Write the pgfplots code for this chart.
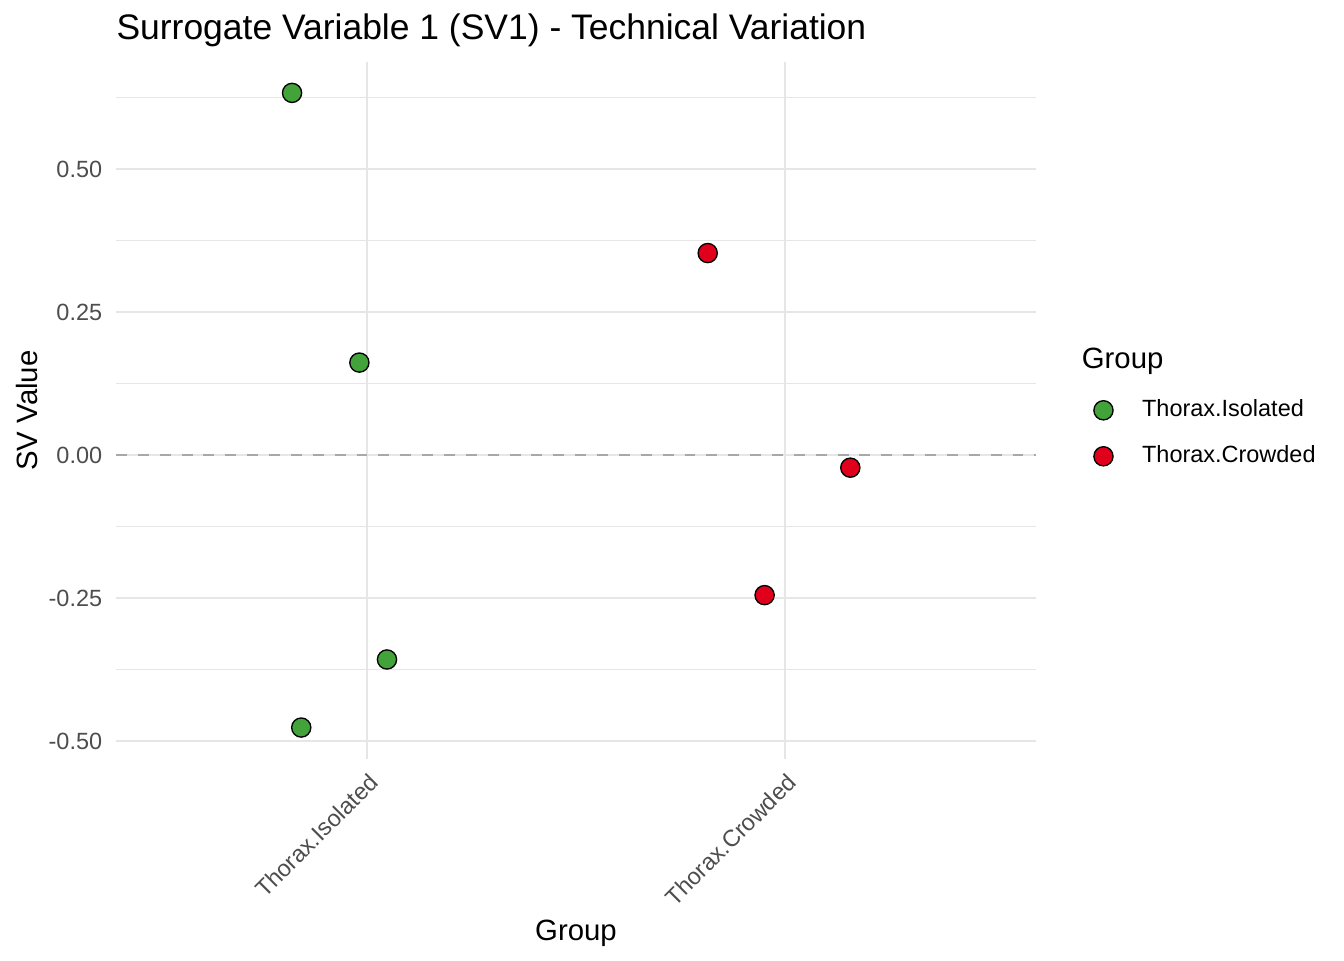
\documentclass[border=0pt]{standalone}
\usepackage{fontspec}
\setmainfont{Liberation Sans}
\usepackage{pgfplots}
\pgfplotsset{compat=1.18}
\definecolor{isoG}{HTML}{43A33B}
\definecolor{crowR}{HTML}{E0001B}
\definecolor{gridc}{HTML}{E6E6E6}
\definecolor{tickc}{HTML}{4D4D4D}
\definecolor{dashc}{HTML}{A8A8A8}
\begin{document}
\begin{tikzpicture}
\path[use as bounding box] (0,0) rectangle (504pt,360pt);
\node[anchor=base west, inner sep=0pt, font=\fontsize{13.3}{15}\selectfont] at (43.5pt,345pt) {Surrogate Variable 1 (SV1) - Technical Variation};
\node[anchor=base west, inner sep=0pt, font=\fontsize{11}{13}\selectfont] at (405.5pt,221.8pt) {Group};
\begin{axis}[
  at={(43.5pt,75.375pt)}, anchor=south west,
  scale only axis, width=345pt, height=261.375pt,
  xmin=0.4, xmax=2.6, ymin=-0.5315, ymax=0.687,
  xtick={1,2}, xticklabels={Thorax.Isolated,Thorax.Crowded},
  ytick={-0.5,-0.25,0,0.25,0.5}, yticklabels={-0.50,-0.25,0.00,0.25,0.50},
  minor ytick={-0.375,-0.125,0.125,0.375,0.625},
  xmajorgrids, ymajorgrids, yminorgrids,
  major grid style={gridc, line width=1pt},
  minor grid style={gridc, line width=0.55pt},
  axis line style={draw=none},
  major tick length=0pt, minor tick length=0pt,
  tick style={draw=none},
  tick label style={font=\fontsize{8.8}{10}\selectfont, text=tickc},
  yticklabel style={anchor=east, inner sep=0pt, xshift=-5.0pt},
  xticklabel style={rotate=45, anchor=north east, inner sep=0pt, xshift=-3.2pt, yshift=-3.5pt},
  xlabel={Group}, ylabel={SV Value},
  every axis x label/.style={at={(axis description cs:0.5,0)}, anchor=base, yshift=-67.9pt, font=\fontsize{11}{13}\selectfont},
  every axis y label/.style={at={(axis description cs:0,0.5)}, rotate=90, anchor=base, yshift=29.3pt, font=\fontsize{11}{13}\selectfont},
  legend style={draw=none, fill=none, inner sep=0pt, outer sep=0pt,
    at={(1.0629,0.5333)}, anchor=north west,
    nodes={inner sep=0pt, minimum height=17.25pt, anchor=west},
    font=\fontsize{8.8}{10}\selectfont, column sep=10.9pt, row sep=0pt},
  legend cell align=left,
  legend image code/.code={\draw[#1] plot coordinates {(0pt,0pt)};},
]
\addplot[color=dashc, line width=0.75pt, dash pattern=on 4.1pt off 4.1pt, forget plot] coordinates {(0.4,0) (2.6,0)};
\addplot[only marks, mark=*, mark size=3.6pt, mark options={fill=isoG, draw=black, line width=0.5pt}]
  coordinates {(0.821,0.633) (0.982,0.1615) (1.048,-0.3575) (0.843,-0.4765)};
\addlegendentry{Thorax.Isolated}
\addplot[only marks, mark=*, mark size=3.6pt, mark options={fill=crowR, draw=black, line width=0.5pt}]
  coordinates {(1.815,0.353) (2.156,-0.0222) (1.951,-0.245)};
\addlegendentry{Thorax.Crowded}
\end{axis}
\end{tikzpicture}
\end{document}
